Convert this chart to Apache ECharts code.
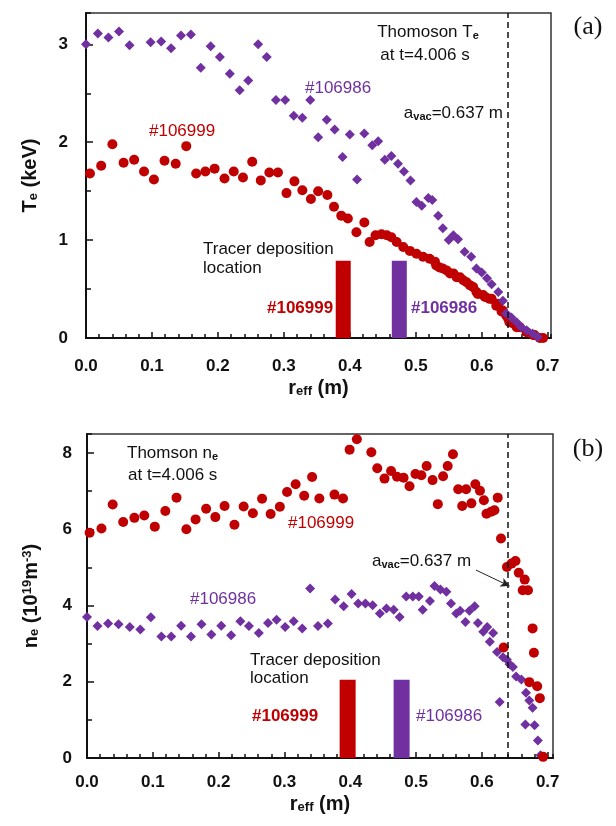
<!DOCTYPE html>
<html>
<head>
<meta charset="utf-8">
<script src="https://cdn.jsdelivr.net/npm/echarts@6/dist/echarts.min.js"></script>
<style>html,body{margin:0;padding:0;background:#fff;}#c{width:616px;height:826px;}</style>
</head>
<body>
<div id="c"></div>
<script>
// ---- data: (a) Te profiles ----
var te106999_r = [0.006,0.023,0.040,0.057,0.073,0.088,0.103,0.119,0.136,0.152,0.167,0.181,0.195,0.210,0.224,0.238,0.252,0.265,0.278,0.291,0.304,0.316,0.328,0.341,0.352,0.366,0.376,0.387,0.397,0.410,0.422,0.430,0.439,0.448,0.456,0.463,0.471,0.481,0.491,0.501,0.511,0.521,0.529,0.531,0.536,0.541,0.547,0.552,0.557,0.562,0.567,0.572,0.577,0.582,0.587,0.592,0.594,0.602,0.605,0.612,0.615,0.622,0.625,0.630,0.632,0.637,0.640,0.642,0.647,0.653,0.658,0.668,0.678,0.680,0.688,0.693];
var te106999_v = [1.68,1.76,1.98,1.79,1.82,1.70,1.62,1.81,1.78,1.96,1.68,1.70,1.73,1.63,1.70,1.64,1.80,1.61,1.69,1.69,1.48,1.60,1.51,1.42,1.50,1.46,1.34,1.25,1.22,1.08,1.18,0.98,1.05,1.06,1.05,1.03,0.98,0.93,0.89,0.86,0.83,0.81,0.78,0.74,0.72,0.71,0.69,0.66,0.66,0.62,0.62,0.59,0.57,0.54,0.52,0.47,0.45,0.44,0.42,0.40,0.40,0.33,0.35,0.27,0.28,0.23,0.20,0.16,0.15,0.11,0.11,0.06,0.03,0.03,0.00,0.00];
var te106986_r = [0.000,0.018,0.034,0.050,0.066,0.098,0.114,0.129,0.144,0.159,0.174,0.189,0.203,0.218,0.233,0.246,0.261,0.274,0.288,0.302,0.315,0.328,0.340,0.352,0.365,0.377,0.389,0.400,0.411,0.422,0.434,0.443,0.453,0.463,0.473,0.482,0.492,0.501,0.509,0.519,0.525,0.534,0.541,0.550,0.557,0.564,0.574,0.584,0.592,0.600,0.608,0.615,0.625,0.632,0.637,0.645,0.653,0.660,0.668,0.677,0.685];
var te106986_v = [3.00,3.11,3.07,3.13,2.99,3.02,3.03,2.96,3.09,3.10,2.76,2.98,2.87,2.70,2.53,2.63,3.00,2.87,2.43,2.43,2.27,2.25,2.43,2.05,2.23,2.13,1.85,2.08,1.62,2.09,1.97,2.01,1.82,1.86,1.78,1.70,1.61,1.39,1.35,1.43,1.41,1.25,1.12,1.00,1.05,1.01,0.88,0.83,0.71,0.67,0.61,0.55,0.47,0.38,0.25,0.21,0.16,0.11,0.08,0.045,0.01];
// ---- data: (b) ne profiles ----
var ne106999_r = [0.004,0.022,0.039,0.055,0.072,0.087,0.103,0.119,0.136,0.151,0.165,0.181,0.195,0.209,0.224,0.238,0.252,0.266,0.279,0.293,0.304,0.317,0.330,0.342,0.353,0.376,0.389,0.399,0.410,0.432,0.441,0.452,0.462,0.471,0.481,0.490,0.499,0.508,0.516,0.525,0.533,0.541,0.548,0.556,0.564,0.570,0.576,0.584,0.590,0.597,0.603,0.607,0.614,0.619,0.624,0.629,0.633,0.638,0.645,0.651,0.656,0.662,0.665,0.670,0.672,0.677,0.679,0.684,0.688,0.693];
var ne106999_v = [5.91,6.02,6.65,6.19,6.30,6.36,6.07,6.48,6.83,6.00,6.26,6.54,6.32,6.61,6.12,6.60,6.42,6.80,6.40,6.59,6.98,7.18,6.88,7.37,6.81,6.91,6.81,8.09,8.36,8.02,7.60,7.33,7.53,7.38,7.35,7.13,7.45,7.42,7.66,7.29,6.66,7.39,7.66,7.97,7.05,6.61,7.05,6.68,7.18,7.01,6.76,6.41,6.46,6.50,6.83,5.76,2.90,5.01,5.10,5.17,4.86,4.40,4.68,4.40,1.99,3.40,2.76,1.88,1.57,0.03];
var ne106986_r = [0.000,0.016,0.032,0.048,0.065,0.081,0.097,0.113,0.128,0.143,0.158,0.174,0.189,0.204,0.219,0.233,0.246,0.261,0.275,0.288,0.301,0.314,0.327,0.339,0.351,0.366,0.377,0.390,0.402,0.412,0.423,0.434,0.445,0.455,0.466,0.475,0.485,0.495,0.504,0.510,0.521,0.528,0.537,0.546,0.553,0.561,0.567,0.575,0.581,0.589,0.594,0.602,0.608,0.612,0.617,0.623,0.627,0.632,0.638,0.642,0.647,0.652,0.660,0.666,0.667,0.672,0.677,0.680,0.685,0.689];
var ne106986_v = [3.70,3.46,3.53,3.51,3.44,3.37,3.69,3.19,3.19,3.47,3.19,3.51,3.24,3.47,3.22,3.59,3.46,3.28,3.54,3.63,3.44,3.59,3.40,4.45,3.46,3.53,4.16,3.98,4.30,4.05,4.05,4.01,3.79,3.92,3.89,3.70,4.24,4.24,4.24,3.89,4.12,4.51,4.42,4.36,4.05,3.79,3.86,3.57,3.86,3.98,3.54,3.31,3.44,3.05,3.28,2.78,1.47,2.64,2.58,2.46,2.39,2.14,2.06,0.88,1.71,1.51,1.32,0.86,0.46,0.07];
// tracer deposition locations (r, bar height)
var depoTe_r = [0.390, 0.475];
var depoTe_h = [0.79, 0.79];
var depoNe_r = [0.396, 0.478];
var depoNe_h = [2.05, 2.05];
var aVac = 0.641;
var xTicksMajor = 0.1, xTicksMinor = 0.02;

var RED = '#C00000', PURPLE = '#7030A0';
var FF = 'Liberation Sans, Arial, sans-serif';

function zip(a, b) { return a.map(function (v, i) { return [v, b[i]]; }); }

function xMain(grid, max, margin) {
  return {
    type: 'value', gridIndex: grid, min: 0, max: max, interval: xTicksMajor, position: 'bottom',
    axisLine: { show: true, onZero: false, lineStyle: { color: '#111', width: 2 } },
    axisTick: { show: true, inside: true, length: 6, lineStyle: { color: '#111', width: 1.5 } },
    axisLabel: { show: true, margin: margin, showMaxLabel: false, color: '#111', fontSize: 17, fontWeight: 'bold', fontFamily: FF,
      formatter: function (v) { return v.toFixed(1); } },
    splitLine: { show: false },
    name: '{m|r}{s|eff}{m| (m)}', nameLocation: 'middle', nameGap: margin + 20,
    nameTextStyle: { rich: {
      m: { fontSize: 20, fontWeight: 'bold', fontFamily: FF, color: '#111' },
      s: { fontSize: 13, fontWeight: 'bold', fontFamily: FF, color: '#111', verticalAlign: 'bottom' } } }
  };
}
function xMinor(grid, max) {
  return {
    type: 'value', gridIndex: grid, min: 0, max: max, interval: xTicksMinor, position: 'bottom',
    axisLine: { show: false, onZero: false }, axisLabel: { show: false }, splitLine: { show: false },
    axisTick: { show: true, inside: true, length: 4, lineStyle: { color: '#111', width: 1.5 } }
  };
}
function yMain(grid, max, interval, margin, name, rich, gap) {
  return {
    type: 'value', gridIndex: grid, min: 0, max: max, interval: interval, position: 'left',
    axisLine: { show: true, onZero: false, lineStyle: { color: '#111', width: 2 } },
    axisTick: { show: true, inside: true, length: 7, lineStyle: { color: '#111', width: 1.5 } },
    axisLabel: { show: true, margin: margin, showMaxLabel: false, color: '#111', fontSize: 17, fontWeight: 'bold', fontFamily: FF },
    splitLine: { show: false },
    name: name, nameLocation: 'middle', nameGap: gap, nameRotate: 90,
    nameTextStyle: { rich: rich }
  };
}
function yMinor(grid, max, interval) {
  return {
    type: 'value', gridIndex: grid, min: 0, max: max, interval: interval, position: 'left',
    axisLine: { show: false, onZero: false }, axisLabel: { show: false }, splitLine: { show: false },
    axisTick: { show: true, inside: true, length: 5, lineStyle: { color: '#111', width: 1.5 } }
  };
}

var richTe = {
  m: { fontSize: 20, fontWeight: 'bold', fontFamily: FF, color: '#111' },
  s: { fontSize: 13, fontWeight: 'bold', fontFamily: FF, color: '#111', verticalAlign: 'bottom' }
};
var richNe = {
  m: { fontSize: 20, fontWeight: 'bold', fontFamily: FF, color: '#111' },
  s: { fontSize: 13, fontWeight: 'bold', fontFamily: FF, color: '#111', verticalAlign: 'bottom' },
  p: { fontSize: 13, fontWeight: 'bold', fontFamily: FF, color: '#111', verticalAlign: 'top' }
};

var dashLine = function (x) {
  return {
    silent: true, symbol: ['none', 'none'], label: { show: false }, animation: false,
    lineStyle: { type: [6, 4], color: '#111', width: 1.5 },
    data: [{ xAxis: x }]
  };
};

function txt(x, y, text, opts) {
  opts = opts || {};
  return {
    type: 'text', x: x, y: y, z: 100,
    style: {
      text: text, fill: opts.fill || '#111', fontSize: opts.size || 17, fontFamily: opts.family || FF,
      fontWeight: opts.weight || 'normal', textAlign: opts.align || 'left', textVerticalAlign: 'middle',
      lineHeight: opts.lh || 18, rich: opts.rich
    }
  };
}
var richSubT = {
  m: { fontSize: 17, fontFamily: FF, fill: '#111', color: '#111' },
  s: { fontSize: 11, fontFamily: FF, fontWeight: 'bold', fill: '#111', color: '#111', verticalAlign: 'bottom' }
};

var option = {
  animation: false,
  backgroundColor: '#fff',
  grid: [
    { left: 86, top: 13, width: 465, height: 325, show: true, borderColor: '#333', borderWidth: 1.5, backgroundColor: 'transparent' },
    { left: 87, top: 434, width: 466, height: 324, show: true, borderColor: '#333', borderWidth: 1.5, backgroundColor: 'transparent' }
  ],
  xAxis: [xMain(0, 0.705, 20), xMinor(0, 0.705), xMain(1, 0.708, 16), xMinor(1, 0.708)],
  yAxis: [
    yMain(0, 3.32, 1, 18, '{m|T}{s|e}{m| (keV)}', richTe, 46), yMinor(0, 3.32, 0.5),
    yMain(1, 8.5, 2, 15, '{m|n}{s|e}{m| (10}{p|19}{m|m}{p|-3}{m|)}', richNe, 46), yMinor(1, 8.5, 1)
  ],
  series: [
    { type: 'bar', xAxisIndex: 0, yAxisIndex: 0, barWidth: 15, z: 1,
      data: [
        { value: [depoTe_r[0], depoTe_h[0]], itemStyle: { color: RED } },
        { value: [depoTe_r[1], depoTe_h[1]], itemStyle: { color: PURPLE } }
      ] },
    { type: 'scatter', name: '#106999 Te', xAxisIndex: 0, yAxisIndex: 0, symbol: 'circle', symbolSize: 10, z: 3,
      itemStyle: { color: RED, opacity: 1 }, data: zip(te106999_r, te106999_v), markLine: dashLine(aVac) },
    { type: 'scatter', name: '#106986 Te', xAxisIndex: 0, yAxisIndex: 0, symbol: 'diamond', symbolSize: 10, z: 4,
      itemStyle: { color: PURPLE, opacity: 1 }, data: zip(te106986_r, te106986_v) },
    { type: 'bar', xAxisIndex: 2, yAxisIndex: 2, barWidth: 16, z: 1,
      data: [
        { value: [depoNe_r[0], depoNe_h[0]], itemStyle: { color: RED } },
        { value: [depoNe_r[1], depoNe_h[1]], itemStyle: { color: PURPLE } }
      ] },
    { type: 'scatter', name: '#106986 ne', xAxisIndex: 2, yAxisIndex: 2, symbol: 'diamond', symbolSize: 10, z: 3,
      itemStyle: { color: PURPLE, opacity: 1 }, data: zip(ne106986_r, ne106986_v), markLine: dashLine(aVac) },
    { type: 'scatter', name: '#106999 ne', xAxisIndex: 2, yAxisIndex: 2, symbol: 'circle', symbolSize: 10, z: 4,
      itemStyle: { color: RED, opacity: 1 }, data: zip(ne106999_r, ne106999_v),
      markLine: {
        silent: true, animation: false, symbol: ['none', 'arrow'], symbolSize: [7, 9], label: { show: false },
        lineStyle: { type: 'solid', color: '#222', width: 1 },
        data: [[{ coord: [0.591, 4.93] }, { coord: [0.642, 4.51] }]]
      } }
  ],
  graphic: [
    // (a)
    txt(428, 32, '{m|Thomoson T}{s|e}', { align: 'center', rich: richSubT }),
    txt(425, 55, 'at t=4.006 s', { align: 'center' }),
    txt(305, 88, '#106986', { fill: PURPLE }),
    txt(503, 113, '{m|a}{s|vac}{m|=0.637 m}', { align: 'right', rich: richSubT }),
    txt(588, 27, '(a)', { align: 'center', size: 26, family: 'Liberation Serif, Times New Roman, serif' }),
    txt(149, 131, '#106999', { fill: RED }),
    txt(203, 259, 'Tracer deposition\nlocation', { lh: 18.5 }),
    txt(267, 308, '#106999', { fill: RED, weight: 'bold' }),
    txt(411, 308, '#106986', { fill: PURPLE, weight: 'bold' }),
    // (b)
    txt(127, 453, '{m|Thomson n}{s|e}', { rich: richSubT }),
    txt(128, 475, 'at t=4.006 s'),
    txt(288, 523, '#106999', { fill: RED }),
    txt(190, 599, '#106986', { fill: PURPLE }),
    txt(372, 561, '{m|a}{s|vac}{m|=0.637 m}', { rich: richSubT }),
    txt(588, 449, '(b)', { align: 'center', size: 26, family: 'Liberation Serif, Times New Roman, serif' }),
    txt(250, 669, 'Tracer deposition\nlocation', { lh: 18 }),
    txt(252, 716, '#106999', { fill: RED, weight: 'bold' }),
    txt(416, 716, '#106986', { fill: PURPLE })
  ]
};

var chart = echarts.init(document.getElementById('c'), null, { renderer: 'canvas' });
chart.setOption(option);
</script>
</body>
</html>
